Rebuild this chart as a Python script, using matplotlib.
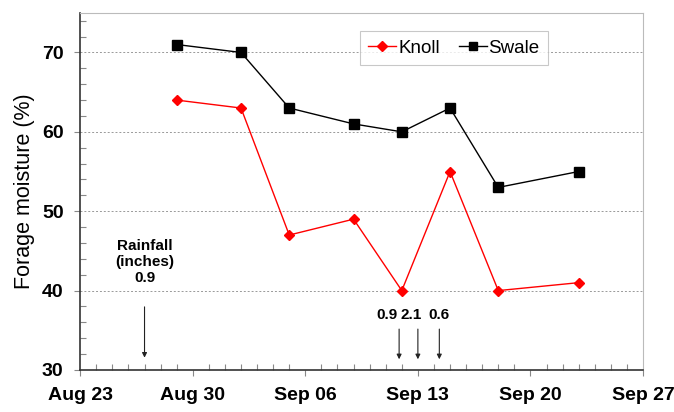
import matplotlib
matplotlib.use('Agg')
import matplotlib.pyplot as plt
import matplotlib.dates as mdates
from matplotlib.ticker import MultipleLocator, FixedLocator
from datetime import datetime, timedelta

plt.rcParams['font.family'] = ['Liberation Sans', 'DejaVu Sans']

# sample dates and forage moisture (%)
dates = ['2011-08-29', '2011-09-02', '2011-09-05', '2011-09-09',
         '2011-09-12', '2011-09-15', '2011-09-18', '2011-09-23']
knoll = [64, 63, 47, 49, 40, 55, 40, 41]
swale = [71, 70, 63, 61, 60, 63, 53, 55]

# rainfall events (inches)
rain_dates = ['2011-08-27 00:00', '2011-09-11 20:00', '2011-09-13 00:00', '2011-09-14 08:00']
rain_amounts = ['0.9', '0.9', '2.1', '0.6']

week_ticks = ['2011-08-23', '2011-08-30', '2011-09-06', '2011-09-13',
              '2011-09-20', '2011-09-27']

x = [datetime.strptime(d, '%Y-%m-%d') for d in dates]
rx = [datetime.strptime(d, '%Y-%m-%d %H:%M') for d in rain_dates]
wt = [mdates.date2num(datetime.strptime(d, '%Y-%m-%d')) for d in week_ticks]

fig = plt.figure(figsize=(6.74, 4.12), dpi=100)
ax = fig.add_axes([0.119, 0.102, 0.835, 0.867])

ax.plot(x, knoll, '-', color='#ff0000', lw=1, marker='D', ms=5.5,
        mfc='#ff0000', mec='#ff0000', label='Knoll', zorder=3)
ax.plot(x, swale, '-', color='black', lw=1, marker='s', ms=7,
        mfc='black', mec='black', label='Swale', zorder=3)

ax.set_xlim(datetime(2011, 8, 23), datetime(2011, 9, 27))
ax.set_ylim(30, 75)
ax.xaxis.set_major_locator(FixedLocator(wt))
ax.xaxis.set_major_formatter(mdates.DateFormatter('%b %d'))
ax.xaxis.set_minor_locator(mdates.DayLocator())
ax.yaxis.set_major_locator(MultipleLocator(10))
ax.yaxis.set_minor_locator(MultipleLocator(2))

ax.tick_params(axis='both', which='major', direction='out', length=4,
               width=0.8, color='#888888', labelsize=14, pad=8)
ax.tick_params(axis='both', which='minor', direction='in', length=4,
               width=0.8, color='#888888')
for lab in ax.get_xticklabels() + ax.get_yticklabels():
    lab.set_fontweight('bold')

ax.grid(axis='y', which='major', color='#999999', ls=(0, (2, 2)), lw=0.7)
ax.set_axisbelow(True)
for s in ['left', 'bottom']:
    ax.spines[s].set_color('#333333')
    ax.spines[s].set_linewidth(1.2)
for s in ['right', 'top']:
    ax.spines[s].set_color('#bbbbbb')
    ax.spines[s].set_linewidth(0.8)

ax.set_ylabel('Forage moisture (%)', fontsize=15.5, labelpad=5)

# rainfall annotations
ax.text(rx[0], 43.6, 'Rainfall\n(inches)\n' + rain_amounts[0], ha='center',
        va='center', fontsize=11, fontweight='semibold', linespacing=1.2)
ax.annotate('', xy=(rx[0], 31.2), xytext=(rx[0], 38.3),
            arrowprops=dict(arrowstyle='-|>', color='#222222', lw=0.8,
                            mutation_scale=7))
offs = [timedelta(hours=-18), timedelta(hours=-10), timedelta(0)]
for d, a, o in zip(rx[1:], rain_amounts[1:], offs):
    ax.text(d + o, 36.9, a, ha='center', va='center', fontsize=11, fontweight='bold')
    ax.annotate('', xy=(d, 31.0), xytext=(d, 35.5),
                arrowprops=dict(arrowstyle='-|>', color='#222222', lw=0.8,
                                mutation_scale=7))

leg = ax.legend(loc='upper center', bbox_to_anchor=(0.664, 0.975), ncol=2,
                fontsize=13.5, frameon=True, fancybox=False, handlelength=1.5,
                handletextpad=0.1, columnspacing=1.0, borderpad=0.45,
                markerscale=0.85)
leg.get_frame().set_edgecolor('#bbbbbb')
leg.get_frame().set_linewidth(0.8)

fig.savefig('out.png', dpi=100)
